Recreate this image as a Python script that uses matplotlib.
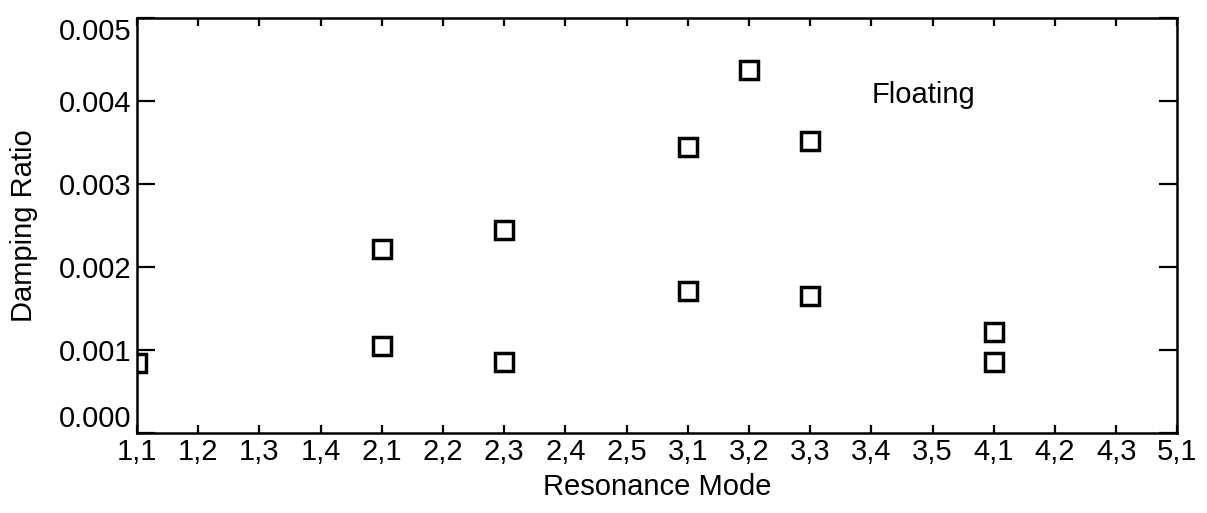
import matplotlib
matplotlib.use("Agg")
import matplotlib.pyplot as plt
import numpy as np

plt.rcParams['font.family'] = ['Liberation Sans', 'DejaVu Sans']

# tick categories along the x axis
modes = ['1,1', '1,2', '1,3', '1,4', '2,1', '2,2', '2,3', '2,4', '2,5',
         '3,1', '3,2', '3,3', '3,4', '3,5', '4,1', '4,2', '4,3', '5,1']

# measured points (mode, damping ratio)
point_modes = ['1,1', '2,1', '2,1', '2,3', '2,3', '3,1', '3,1', '3,2',
               '3,3', '3,3', '4,1', '4,1']
damping = [0.00085, 0.00222, 0.00105, 0.00245, 0.00086, 0.00345, 0.00172,
           0.00437, 0.00352, 0.00165, 0.00122, 0.00086]

yticks = [0.000, 0.001, 0.002, 0.003, 0.004, 0.005]

xpos = [modes.index(m) for m in point_modes]

fig = plt.figure(figsize=(12.07, 5.13), dpi=100)
ax = fig.add_axes([0.1135, 0.155, 0.862, 0.81])

ax.plot(xpos, damping, linestyle='none', marker='s', markersize=13,
        markerfacecolor='white', markeredgecolor='black',
        markeredgewidth=2.5, clip_on=True)

ax.set_xlim(0, len(modes) - 1)
ax.set_ylim(0, 0.005)
ax.set_xticks(range(len(modes)))
ax.set_xticklabels(modes)
ax.set_yticks(yticks)
ax.set_yticklabels([f'{v:.3f}' for v in yticks])

for s in ax.spines.values():
    s.set_linewidth(1.8)

ax.tick_params(axis='x', direction='in', length=5.5, width=1.6,
               top=True, labelsize=21, pad=3)
ax.tick_params(axis='y', direction='in', length=13, width=1.6,
               right=True, labelsize=21, pad=4)

# end labels sit inside the axis range like the original
ylabels = ax.get_yticklabels()
ylabels[0].set_va('bottom')
ylabels[-1].set_va('top')

ax.set_xlabel('Resonance Mode', fontsize=21, labelpad=5)
ax.set_ylabel('Damping Ratio', fontsize=21, labelpad=15)

ax.text(12.0, 0.00407, 'Floating', fontsize=21, va='center', ha='left')

fig.savefig('out.png', dpi=100)
